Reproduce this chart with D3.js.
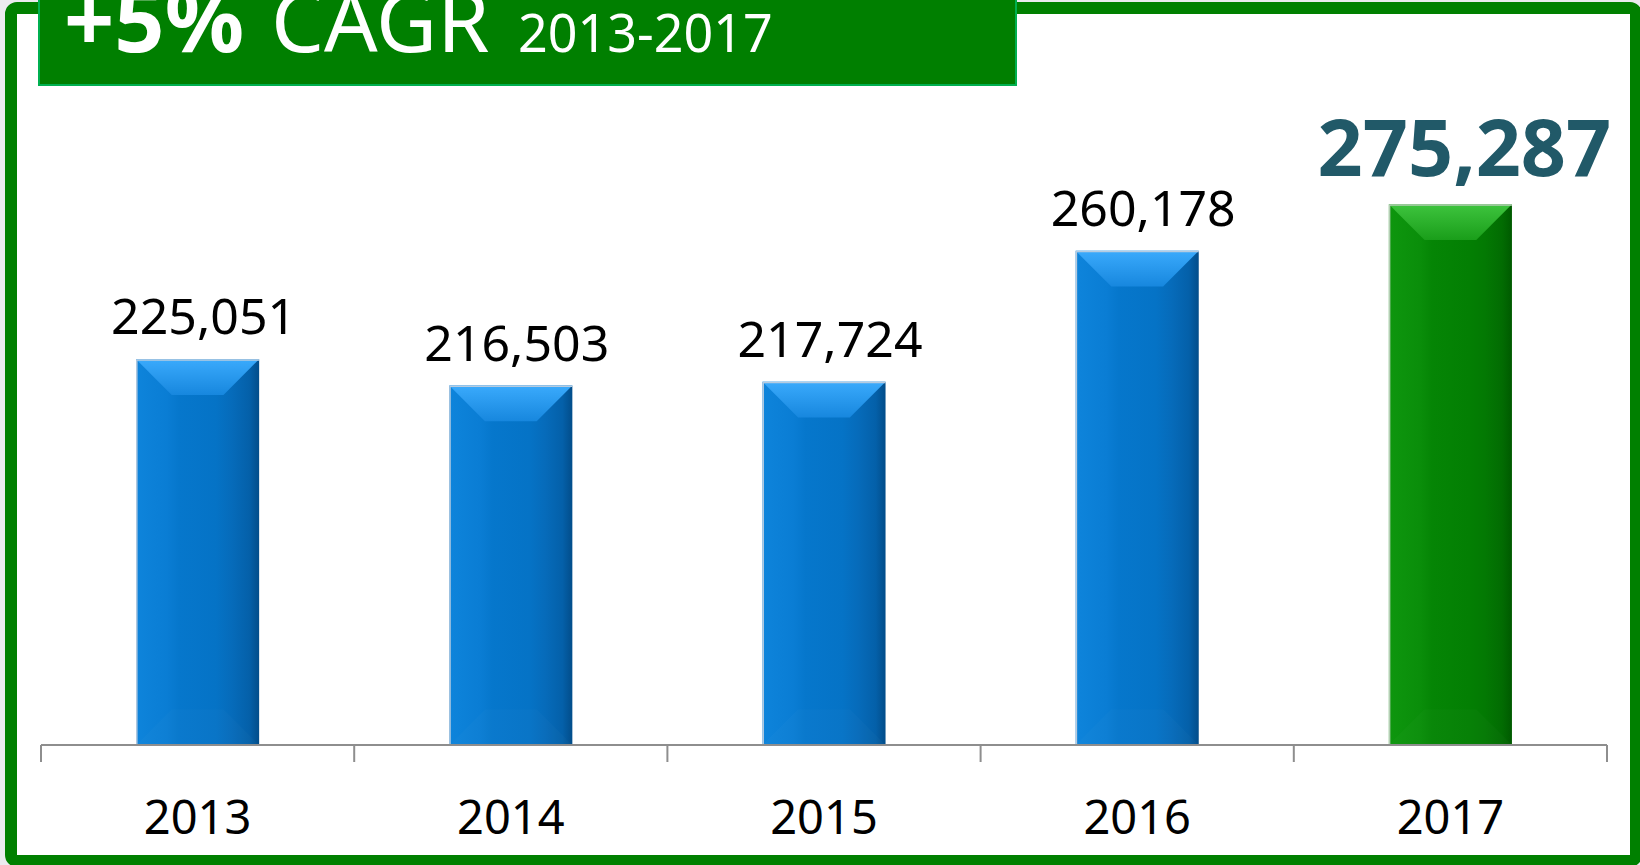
<!DOCTYPE html>
<html>
<head>
<meta charset="utf-8">
<script src="https://cdn.jsdelivr.net/npm/d3@7"></script>
<style>
  html, body { margin: 0; padding: 0; background: #ebebef; }
  svg { display: block; }
  text { font-family: "Noto Sans", "Open Sans", sans-serif; }
</style>
</head>
<body>
<svg id="chart" width="1640" height="865"></svg>
<script>
// data
var years = ["2013", "2014", "2015", "2016", "2017"];
var values = [225051, 216503, 217724, 260178, 275287];
var highlightYear = "2017";
var titleBig = "+5%";
var titleWord = "CAGR";
var titleRange = "2013-2017";

var svg = d3.select("#chart");

// scales
var x = d3.scaleBand().domain(years).range([41, 1607]).padding(0);
var y = d3.scaleLinear().domain([100000, 300000]).range([745, 128]);
var barW = x.bandwidth() * 0.393;
var bevel = barW * 0.29;

// colour sets for the bevelled bars
var schemes = {
    blue: {
        side: [[0, "#0e84db"], [0.25, "#0a7dd4"], [0.35, "#0677cc"], [0.65, "#0573c6"], [0.78, "#066bba"], [0.92, "#0460a9"], [1, "#024d8a"]],
        top: [[0, "#3aaafc"], [1, "#1787de"]],
        edge: "#b6cbe0"
    },
    green: {
        side: [[0, "#0e960e"], [0.25, "#0a8e0a"], [0.35, "#058505"], [0.65, "#037f03"], [0.78, "#037903"], [0.92, "#026c02"], [1, "#005a00"]],
        top: [[0, "#3ec43e"], [1, "#1a9e1a"]],
        edge: "#b5cdb5"
    }
};

var defs = svg.append("defs");
Object.keys(schemes).forEach(function(k){
    var s = schemes[k];
    defs.append("linearGradient").attr("id", k + "-side")
        .attr("x1", "0%").attr("y1", "0%").attr("x2", "100%").attr("y2", "0%")
        .selectAll("stop").data(s.side).enter().append("stop")
        .attr("offset", function(d){ return d[0]; })
        .attr("stop-color", function(d){ return d[1]; });
    defs.append("linearGradient").attr("id", k + "-top")
        .attr("x1", "0%").attr("y1", "0%").attr("x2", "0%").attr("y2", "100%")
        .selectAll("stop").data(s.top).enter().append("stop")
        .attr("offset", function(d){ return d[0]; })
        .attr("stop-color", function(d){ return d[1]; });
});

// outer green frame
svg.append("rect")
    .attr("x", 11).attr("y", 8)
    .attr("width", 1625).attr("height", 853)
    .attr("rx", 6)
    .attr("fill", "#ffffff")
    .attr("stroke", "#008000")
    .attr("stroke-width", 12);

// title box
svg.append("rect")
    .attr("x", 39).attr("y", -10)
    .attr("width", 977).attr("height", 95)
    .attr("fill", "#007f00")
    .attr("stroke", "#00b050")
    .attr("stroke-width", 2);

svg.append("text").attr("x", 64).attr("y", 52)
    .attr("fill", "#fff").attr("font-size", 88).attr("font-weight", "bold")
    .text(titleBig);
svg.append("text").attr("x", 271).attr("y", 52)
    .attr("fill", "#fff").attr("font-size", 84)
    .text(titleWord);
svg.append("text").attr("x", 518).attr("y", 52)
    .attr("fill", "#fff").attr("font-size", 52)
    .text(titleRange);

var data = years.map(function(d, i){ return {year: d, value: values[i]}; });

var base = y.range()[0];
var edges = years.map(function(d){ return x(d); }).concat([x(years[years.length - 1]) + x.bandwidth()]);

// bars
svg.selectAll(".bar").data(data).enter()
    .append("g").attr("class", "bar")
    .each(function(d){
        var g = d3.select(this);
        var k = d.year == highlightYear ? "green" : "blue";
        var x0 = x(d.year) + (x.bandwidth() - barW) / 2;
        var x1 = x0 + barW;
        var y0 = y(d.value);
        var y1 = base;

        g.append("rect")
            .attr("x", x0).attr("y", y0)
            .attr("width", barW).attr("height", y1 - y0)
            .attr("fill", "url(#" + k + "-side)");

        // bottom bevel, barely lighter
        g.append("path")
            .attr("d", "M" + x0 + "," + y1 + "L" + x1 + "," + y1 +
                "L" + (x1 - bevel) + "," + (y1 - bevel) + "L" + (x0 + bevel) + "," + (y1 - bevel) + "Z")
            .attr("fill", "#ffffff").attr("fill-opacity", 0.02);

        // top bevel
        g.append("path")
            .attr("d", "M" + x0 + "," + y0 + "L" + x1 + "," + y0 +
                "L" + (x1 - bevel) + "," + (y0 + bevel) + "L" + (x0 + bevel) + "," + (y0 + bevel) + "Z")
            .attr("fill", "url(#" + k + "-top)");

        // thin light rim on the left and top
        g.append("path")
            .attr("d", "M" + (x0 + 0.75) + "," + y1 + "L" + (x0 + 0.75) + "," + (y0 + 0.75) + "L" + x1 + "," + (y0 + 0.75))
            .attr("fill", "none")
            .attr("stroke", schemes[k].edge)
            .attr("stroke-width", 1.5);
    });

// axis line and boundary ticks
svg.append("line")
    .attr("x1", edges[0]).attr("x2", edges[edges.length - 1])
    .attr("y1", base).attr("y2", base)
    .attr("stroke", "#8e8e8e").attr("stroke-width", 2);

svg.selectAll(".tick-mark").data(edges).enter()
    .append("line").attr("class", "tick-mark")
    .attr("x1", function(d){ return d; }).attr("x2", function(d){ return d; })
    .attr("y1", base).attr("y2", base + 17)
    .attr("stroke", "#8e8e8e").attr("stroke-width", 2);

// category labels via the axis generator
var axis = svg.append("g")
    .attr("transform", "translate(0," + base + ")")
    .call(d3.axisBottom(x).tickSize(0).tickSizeOuter(0));
axis.select(".domain").remove();
axis.selectAll("text")
    .attr("y", 89).attr("dy", 0)
    .attr("fill", "#000")
    .style("font-family", "'Noto Sans', 'Open Sans', sans-serif")
    .style("font-size", "47px");

// value labels
svg.selectAll(".val").data(data).enter()
    .append("text").attr("class", "val")
    .attr("x", function(d){ return x(d.year) + x.bandwidth() / 2 + (d.year == highlightYear ? 14 : 6); })
    .attr("y", function(d){ return y(d.value) - (d.year == highlightYear ? 28 : 25); })
    .attr("text-anchor", "middle")
    .attr("fill", function(d){ return d.year == highlightYear ? "#215968" : "#000"; })
    .attr("font-weight", function(d){ return d.year == highlightYear ? "bold" : "normal"; })
    .attr("font-size", function(d){ return d.year == highlightYear ? 79 : 50; })
    .text(function(d){ return d3.format(",")(d.value); });
</script>
</body>
</html>
